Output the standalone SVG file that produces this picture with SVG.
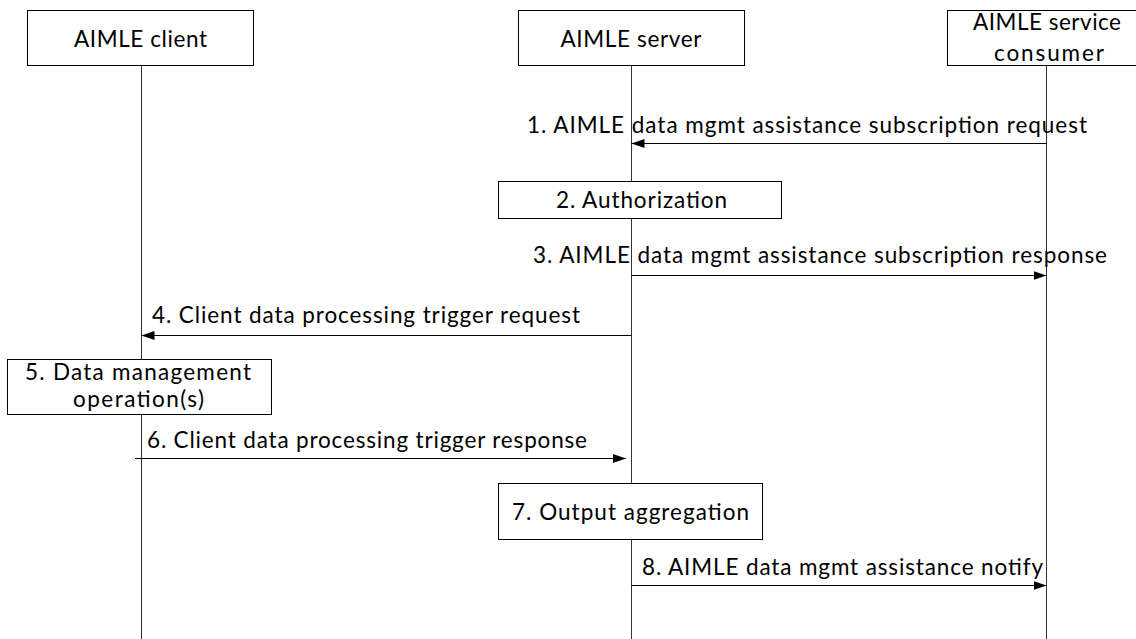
<svg xmlns="http://www.w3.org/2000/svg" width="1136" height="639" viewBox="0 0 1136 639">
<defs>
<style>
.box{fill:#fff;stroke:#000;stroke-width:1}
.life{stroke:#333;stroke-width:1;fill:none}
.msg{stroke:#000;stroke-width:1.2;fill:none;marker-end:url(#ah)}
text{font-family:Lato,"Liberation Sans",sans-serif;font-size:22.5px;fill:#000}
.c{text-anchor:middle}
</style>
<marker id="ah" markerUnits="userSpaceOnUse" markerWidth="14" markerHeight="10" refX="13" refY="4.5" orient="auto">
<path d="M0,0 L13,4.5 L0,9 z" fill="#000"/>
</marker>
</defs>
<rect width="1136" height="639" fill="#fff"/>
<g id="lifelines">
<line class="life" x1="141.5" y1="66" x2="141.5" y2="639"/>
<line class="life" x1="631.5" y1="66" x2="631.5" y2="639"/>
<line class="life" x1="1046.5" y1="66" x2="1046.5" y2="639"/>
</g>
<g id="client">
<rect class="box" x="27.5" y="10.5" width="226" height="55"/>
<text class="c" x="140.5" y="47" textLength="133" lengthAdjust="spacing">AIMLE client</text>
</g>
<g id="server">
<rect class="box" x="518.5" y="10.5" width="226" height="55"/>
<text class="c" x="631" y="47" textLength="141" lengthAdjust="spacing">AIMLE server</text>
</g>
<g id="consumer">
<rect class="box" x="947.5" y="10.5" width="200" height="55"/>
<text class="c" x="1047" y="30" textLength="148" lengthAdjust="spacing">AIMLE service</text>
<text class="c" x="1049" y="61" textLength="110" lengthAdjust="spacing">consumer</text>
</g>
<g id="connectors">
<line class="msg" x1="1046.5" y1="143.5" x2="631.5" y2="143.5"/>
<text x="527" y="133" textLength="560" lengthAdjust="spacing">1. AIMLE data mgmt assistance subscription request</text>
<line class="msg" x1="631.5" y1="275.5" x2="1046.5" y2="275.5"/>
<text x="533" y="263" textLength="574" lengthAdjust="spacing">3. AIMLE data mgmt assistance subscription response</text>
<line class="msg" x1="631.5" y1="335.5" x2="141.5" y2="335.5"/>
<text x="152" y="323" textLength="428" lengthAdjust="spacing">4. Client data processing trigger request</text>
<line class="msg" x1="135" y1="458.5" x2="626" y2="458.5"/>
<text x="147" y="448" textLength="440" lengthAdjust="spacing">6. Client data processing trigger response</text>
<line class="msg" x1="631.5" y1="585.5" x2="1046.5" y2="585.5"/>
<text x="642" y="575" textLength="401" lengthAdjust="spacing">8. AIMLE data mgmt assistance notify</text>
</g>
<g id="step2">
<rect class="box" x="498.5" y="181.5" width="283" height="37"/>
<text x="556" y="208" textLength="171" lengthAdjust="spacing">2. Authorization</text>
</g>
<g id="step5">
<rect class="box" x="7.5" y="359.5" width="264" height="55"/>
<text x="25" y="380" textLength="226" lengthAdjust="spacing">5. Data management</text>
<text x="73" y="407" textLength="131" lengthAdjust="spacing">operation(s)</text>
</g>
<g id="step7">
<rect class="box" x="498.5" y="483.5" width="264" height="56"/>
<text x="512" y="520" textLength="237" lengthAdjust="spacing">7. Output aggregation</text>
</g>
</svg>
